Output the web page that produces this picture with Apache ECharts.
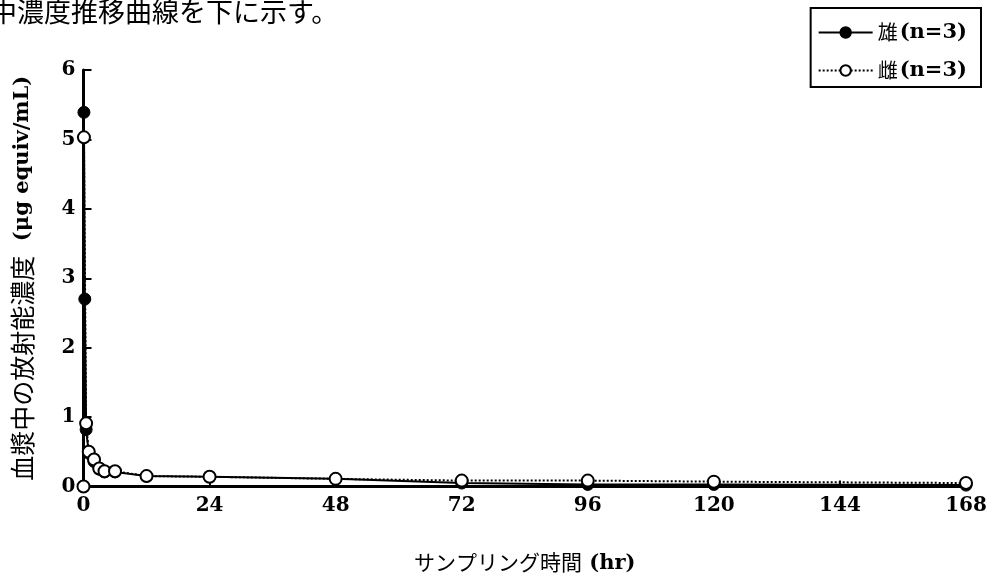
<!DOCTYPE html>
<html>
<head>
<meta charset="utf-8">
<script src="https://cdn.jsdelivr.net/npm/echarts@6/dist/echarts.min.js"></script>
<style>
  html, body { margin: 0; padding: 0; background: #fff; }
  #chart { width: 991px; height: 580px; }
</style>
</head>
<body>
<div id="chart"></div>
<script>
// Sampling times (hr) and plasma radioactivity (μg equiv/mL)
const maleTimes   = [0, 0.083, 0.25, 0.5, 1, 2, 3, 4, 6, 12, 24, 48, 72, 96, 120, 168];
const maleValues  = [0, 5.39, 2.70, 0.82, 0.48, 0.36, 0.25, 0.21, 0.21, 0.15, 0.14, 0.11, 0.05, 0.03, 0.03, 0.02];
const femaleTimes  = [0, 0.083, 0.5, 1, 2, 3, 4, 6, 12, 24, 48, 72, 96, 120, 168];
const femaleValues = [0, 5.03, 0.91, 0.50, 0.39, 0.26, 0.22, 0.22, 0.15, 0.14, 0.11, 0.085, 0.085, 0.07, 0.05];
const xTicks = [0, 24, 48, 72, 96, 120, 144, 168];
const yTicks = [0, 1, 2, 3, 4, 5, 6];
const seriesNames = ['雄', '雌'];
const groupSize = '(n=3)';

const pairs = (xs, ys) => xs.map((x, i) => [x, ys[i]]);
const serif = "'DejaVu Serif', 'Liberation Serif', serif";
const jp = "'Noto Sans CJK JP', sans-serif";

const chart = echarts.init(document.getElementById('chart'));
chart.setOption({
  animation: false,
  backgroundColor: '#fff',
  graphic: [{
    type: 'text',
    left: -10,
    top: -2,
    style: { text: '中濃度推移曲線を下に示す。', font: '27px ' + jp, fill: '#000' }
  }],
  legend: {
    orient: 'vertical',
    right: 10,
    top: 8,
    data: seriesNames,
    borderColor: '#000',
    borderWidth: 2,
    padding: [14, 14, 6, 7],
    itemGap: 17,
    itemWidth: 54,
    itemHeight: 13,
    formatter: name => '{jp|' + name + '}{lat|' + groupSize + '}',
    textStyle: {
      color: '#000',
      rich: {
        jp: { fontFamily: jp, fontSize: 20, color: '#000', padding: [0, 2, 0, 0] },
        lat: { fontFamily: serif, fontSize: 21, fontWeight: 'bold', color: '#000' }
      }
    }
  },
  grid: { left: 83.5, right: 25, top: 70, bottom: 93.5, containLabel: false },
  xAxis: {
    type: 'value',
    min: 0,
    max: 168,
    interval: 24,
    name: '{jp|サンプリング時間}{lat| (hr)}',
    nameLocation: 'middle',
    nameGap: 64,
    nameTextStyle: {
      rich: {
        jp: { fontFamily: jp, fontSize: 21, color: '#000' },
        lat: { fontFamily: serif, fontSize: 21, fontWeight: 'bold', color: '#000', padding: [3, 0, 0, 0] }
      }
    },
    axisLine: { lineStyle: { color: '#000', width: 3 } },
    axisTick: { inside: true, length: 6, lineStyle: { color: '#000', width: 2 } },
    axisLabel: {
      margin: 9,
      fontFamily: serif, fontSize: 20, fontWeight: 'bold', color: '#000',
      formatter: v => xTicks.includes(v) ? String(v) : ''
    },
    splitLine: { show: false }
  },
  yAxis: {
    type: 'value',
    min: 0,
    max: 6,
    interval: 1,
    name: '{jp|血漿中の放射能濃度}{lat|  (μg equiv/mL)}',
    nameLocation: 'middle',
    nameGap: 48,
    nameRotate: 90,
    nameTextStyle: {
      rich: {
        jp: { fontFamily: jp, fontSize: 25, color: '#000' },
        lat: { fontFamily: serif, fontSize: 21, fontWeight: 'bold', color: '#000' }
      }
    },
    axisLine: { lineStyle: { color: '#000', width: 3 } },
    axisTick: { inside: true, length: 8, lineStyle: { color: '#000', width: 2 } },
    axisLabel: {
      margin: 8,
      padding: [4, 0, 0, 0],
      fontFamily: serif, fontSize: 20, fontWeight: 'bold', color: '#000',
      formatter: v => yTicks.includes(v) ? String(v) : ''
    },
    splitLine: { show: false }
  },
  series: [
    {
      name: seriesNames[0],
      type: 'line',
      data: pairs(maleTimes, maleValues),
      symbol: 'circle',
      symbolSize: 12,
      itemStyle: { color: '#000', borderColor: '#000', borderWidth: 1 },
      lineStyle: { color: '#000', width: 2, type: 'solid' },
      z: 2
    },
    {
      name: seriesNames[1],
      type: 'line',
      data: pairs(femaleTimes, femaleValues),
      symbol: 'circle',
      symbolSize: 12,
      itemStyle: { color: '#fff', borderColor: '#000', borderWidth: 2 },
      lineStyle: { color: '#000', width: 2, type: 'dotted' },
      z: 3
    }
  ]
});
</script>
</body>
</html>
